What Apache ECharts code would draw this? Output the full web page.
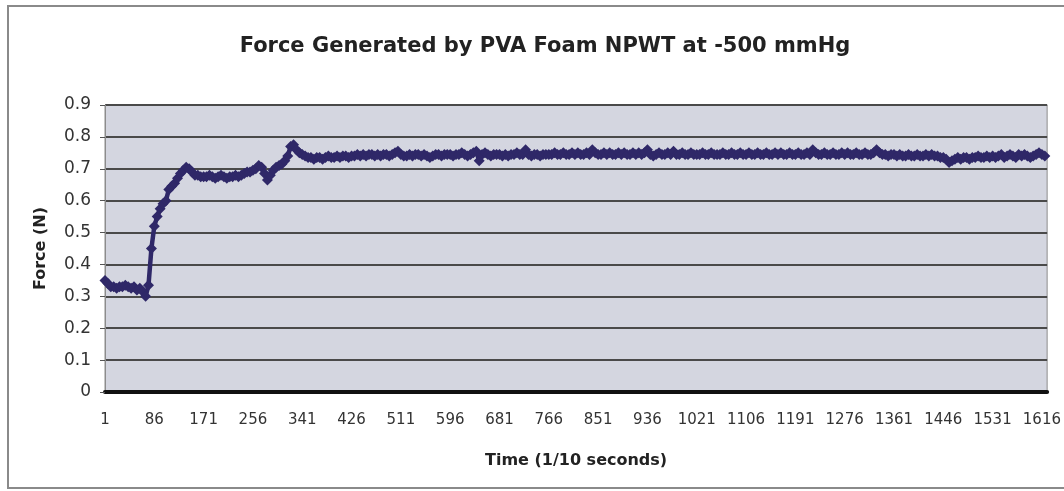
<!DOCTYPE html>
<html>
<head>
<meta charset="utf-8">
<script src="https://cdn.jsdelivr.net/npm/echarts@6/dist/echarts.min.js"></script>
<style>
  html, body { margin: 0; padding: 0; background: #fff; }
  #chart { width: 1064px; height: 491px; }
</style>
</head>
<body>
<div id="chart"></div>
<script>
// 时间点总数（1/10 秒）
const sampleCount = 1625
// 每隔 5 个时间点读一次数值
const sampleStep = 5
const tickLabels = ['1', '86', '171', '256', '341', '426', '511', '596', '681', '766', '851',
  '936', '1021', '1106', '1191', '1276', '1361', '1446', '1531', '1616']
const yTicks = [0, 0.1, 0.2, 0.3, 0.4, 0.5, 0.6, 0.7, 0.8, 0.9]

// 力值 (N)，每行对应一个刻度区间（85 个时间点）
const forceRows = [
  [0.35, 0.34, 0.33, 0.33, 0.325, 0.33, 0.33, 0.335, 0.33, 0.325, 0.33, 0.32, 0.325, 0.315, 0.30, 0.335, 0.45],
  [0.52, 0.55, 0.575, 0.59, 0.6, 0.635, 0.645, 0.655, 0.67, 0.685, 0.695, 0.705, 0.70, 0.69, 0.68, 0.68, 0.675],
  [0.675, 0.675, 0.68, 0.675, 0.67, 0.675, 0.68, 0.675, 0.67, 0.675, 0.675, 0.68, 0.675, 0.68, 0.685, 0.69, 0.69],
  [0.695, 0.70, 0.71, 0.705, 0.685, 0.665, 0.68, 0.695, 0.705, 0.71, 0.715, 0.725, 0.74, 0.77, 0.775, 0.76, 0.75],
  [0.745, 0.74, 0.735, 0.735, 0.73, 0.735, 0.735, 0.73, 0.735, 0.74, 0.735, 0.735, 0.74, 0.735, 0.74, 0.74, 0.735],
  [0.74, 0.74, 0.745, 0.74, 0.745, 0.74, 0.745, 0.745, 0.74, 0.745, 0.74, 0.745, 0.745, 0.74, 0.745, 0.75, 0.755],
  [0.745, 0.74, 0.74, 0.745, 0.74, 0.745, 0.745, 0.74, 0.745, 0.74, 0.735, 0.74, 0.745, 0.745, 0.74, 0.745, 0.745],
  [0.745, 0.74, 0.745, 0.745, 0.75, 0.745, 0.74, 0.745, 0.75, 0.755, 0.725, 0.745, 0.75, 0.745, 0.74, 0.745, 0.745],
  [0.745, 0.74, 0.745, 0.74, 0.745, 0.745, 0.75, 0.745, 0.745, 0.76, 0.745, 0.74, 0.745, 0.745, 0.74, 0.745, 0.745],
  [0.745, 0.745, 0.75, 0.745, 0.745, 0.75, 0.745, 0.745, 0.75, 0.745, 0.75, 0.745, 0.745, 0.75, 0.745, 0.76, 0.75],
  [0.745, 0.745, 0.75, 0.745, 0.75, 0.745, 0.745, 0.75, 0.745, 0.75, 0.745, 0.745, 0.75, 0.745, 0.75, 0.745, 0.75],
  [0.76, 0.745, 0.74, 0.745, 0.75, 0.745, 0.745, 0.75, 0.745, 0.755, 0.745, 0.745, 0.75, 0.745, 0.745, 0.75, 0.745],
  [0.745, 0.745, 0.75, 0.745, 0.745, 0.75, 0.745, 0.745, 0.745, 0.75, 0.745, 0.745, 0.75, 0.745, 0.745, 0.75, 0.745],
  [0.745, 0.75, 0.745, 0.745, 0.75, 0.745, 0.745, 0.75, 0.745, 0.745, 0.75, 0.745, 0.75, 0.745, 0.745, 0.75, 0.745],
  [0.745, 0.75, 0.745, 0.745, 0.75, 0.745, 0.76, 0.75, 0.745, 0.745, 0.75, 0.745, 0.745, 0.75, 0.745, 0.745, 0.75],
  [0.745, 0.75, 0.745, 0.745, 0.75, 0.745, 0.745, 0.75, 0.745, 0.745, 0.75, 0.76, 0.75, 0.745, 0.745, 0.74, 0.745],
  [0.745, 0.74, 0.745, 0.74, 0.74, 0.745, 0.74, 0.74, 0.745, 0.74, 0.74, 0.745, 0.74, 0.745, 0.74, 0.74, 0.735],
  [0.735, 0.73, 0.72, 0.725, 0.73, 0.735, 0.73, 0.735, 0.735, 0.73, 0.735, 0.735, 0.74, 0.735, 0.735, 0.74, 0.735],
  [0.74, 0.735, 0.74, 0.745, 0.735, 0.74, 0.745, 0.74, 0.735, 0.745, 0.74, 0.745, 0.74, 0.735, 0.74, 0.745, 0.75],
  [0.745, 0.74]
]

const categories = []
for (let t = 1; t <= sampleCount; t++) {
  categories.push(String(t))
}
const seriesData = []
forceRows.flat().forEach((v, i) => {
  seriesData.push([i * sampleStep, v])
})

const chart = echarts.init(document.getElementById('chart'), null, { renderer: 'canvas' })
const font = '"DejaVu Sans", Arial, sans-serif'
const option = {
  animation: false,
  backgroundColor: '#fff',
  title: {
    text: 'Force Generated by PVA Foam NPWT at -500 mmHg',
    left: 540,
    textAlign: 'center',
    top: 31,
    textStyle: { fontFamily: font, fontSize: 21, fontWeight: 'bold', color: '#222' }
  },
  graphic: [{
    type: 'rect',
    shape: { x: 8, y: 6, width: 1080, height: 482 },
    style: { fill: 'none', stroke: '#8a8a8a', lineWidth: 2 },
    silent: true,
    z: -1
  }],
  grid: {
    left: 105, right: 9, top: 105, bottom: 99,
    show: true,
    backgroundColor: '#d4d6e0',
    borderColor: '#8c8c8c',
    borderWidth: 1
  },
  xAxis: {
    type: 'category',
    data: categories,
    boundaryGap: false,
    name: 'Time (1/10 seconds)',
    nameLocation: 'middle',
    nameGap: 61,
    nameTextStyle: { fontFamily: font, fontSize: 16, fontWeight: 'bold', color: '#222' },
    axisLine: { lineStyle: { color: '#111', width: 4 } },
    axisTick: { show: false },
    axisLabel: {
      interval: (index, value) => tickLabels.includes(value),
      margin: 21,
      fontFamily: font, fontSize: 15, color: '#333'
    },
    splitLine: { show: false }
  },
  yAxis: {
    type: 'value',
    min: yTicks[0],
    max: yTicks[yTicks.length - 1],
    interval: 0.1,
    name: 'Force (N)',
    nameLocation: 'middle',
    nameGap: 56,
    nameTextStyle: { fontFamily: font, fontSize: 16, fontWeight: 'bold', color: '#222' },
    axisLine: { show: true, lineStyle: { color: '#8c8c8c', width: 1 } },
    axisTick: { show: true, length: 5, lineStyle: { color: '#555' } },
    axisLabel: {
      margin: 14,
      fontFamily: font, fontSize: 17, color: '#333',
      formatter: v => String(Math.round(v * 10) / 10)
    },
    splitLine: { show: true, lineStyle: { color: '#4a4a4a', width: 2 } }
  },
  series: [{
    type: 'line',
    data: seriesData,
    symbol: 'diamond',
    symbolSize: 11,
    showAllSymbol: true,
    itemStyle: { color: '#2f2868' },
    lineStyle: { color: '#2f2868', width: 4.5 },
    z: 5
  }]
}
chart.setOption(option)
</script>
</body>
</html>
